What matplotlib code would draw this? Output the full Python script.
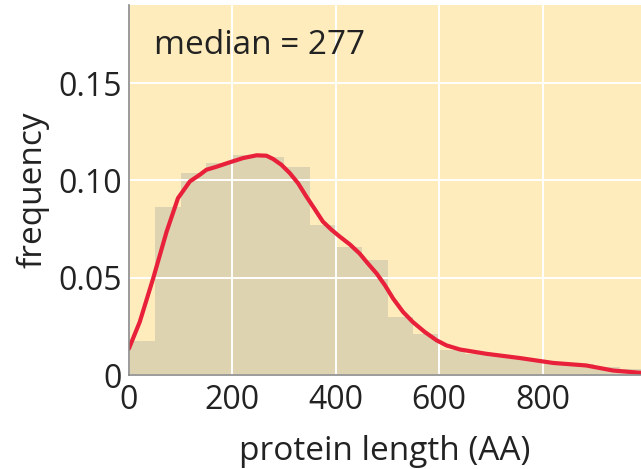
import matplotlib.pyplot as plt
import numpy as np
from matplotlib.ticker import FixedLocator, FixedFormatter

plt.rcParams["font.family"] = ["Open Sans", "DejaVu Sans"]

# histogram: bin edges (AA) and frequency per 50-AA bin
bin_edges = np.arange(0, 1050, 50)
bin_freq = [0.0175, 0.0866, 0.1036, 0.109, 0.113, 0.112, 0.107, 0.077,
            0.066, 0.059, 0.030, 0.021, 0.013, 0.011, 0.010, 0.008,
            0.007, 0.006, 0.004, 0.003]

# smoothed density curve
curve_x = [0, 21, 47, 73, 95, 118, 137, 150, 169, 195, 221, 247, 266, 279,
           295, 311, 327, 343, 359, 375, 392, 408, 427, 446, 462, 479, 495,
           511, 530, 549, 572, 595, 614, 640, 691, 756, 820, 884, 936, 990]
curve_y = [0.0136, 0.0273, 0.0497, 0.0737, 0.0909, 0.0995, 0.1029, 0.1055,
           0.107, 0.1093, 0.1115, 0.1129, 0.1127, 0.111, 0.108, 0.1038,
           0.0986, 0.0918, 0.0854, 0.0789, 0.0746, 0.0711, 0.0672, 0.0625,
           0.0574, 0.0522, 0.0462, 0.0393, 0.0325, 0.0273, 0.0222, 0.0179,
           0.0153, 0.0132, 0.011, 0.0088, 0.0063, 0.005, 0.0024, 0.0012]

median_len = 277
yticks = [0, 0.05, 0.10, 0.15]
ytick_labels = ["0", "0.05", "0.10", "0.15"]
xticks = [0, 200, 400, 600, 800]

fig = plt.figure(figsize=(6.41, 4.69), dpi=100)
ax = fig.add_axes([0.201, 0.2, 0.799, 0.789])
ax.set_facecolor("#FEECBC")

ax.bar(bin_edges[:-1], bin_freq, width=50, align="edge",
       color="#DDD3B1", lw=0, zorder=1)
ax.plot(curve_x, curve_y, color="#E8203A", lw=3, zorder=3,
        solid_capstyle="round", solid_joinstyle="round")

ax.set_xlim(0, 990)
ax.set_ylim(0, 0.19)
ax.xaxis.set_major_locator(FixedLocator(xticks))
ax.yaxis.set_major_locator(FixedLocator(yticks))
ax.yaxis.set_major_formatter(FixedFormatter(ytick_labels))
ax.grid(True, color="white", lw=1.4, zorder=2)
ax.set_axisbelow(False)
ax.tick_params(length=0, labelsize=23, colors="#222222")
ax.tick_params(axis="x", pad=6)
ax.tick_params(axis="y", pad=5)

for s in ("top", "right"):
    ax.spines[s].set_visible(False)
for s in ("left", "bottom"):
    ax.spines[s].set_color("#8a8a8a")
    ax.spines[s].set_linewidth(1.2)
    ax.spines[s].set_zorder(4)

ax.set_xlabel("protein length (AA)", fontsize=24, color="#222222", labelpad=13)
ax.set_ylabel("frequency", fontsize=24, color="#222222", labelpad=6)
ax.text(0.05, 0.89, f"median = {median_len}", transform=ax.transAxes,
        fontsize=24, color="#222222", va="center")

fig.savefig("out.png", dpi=100)
